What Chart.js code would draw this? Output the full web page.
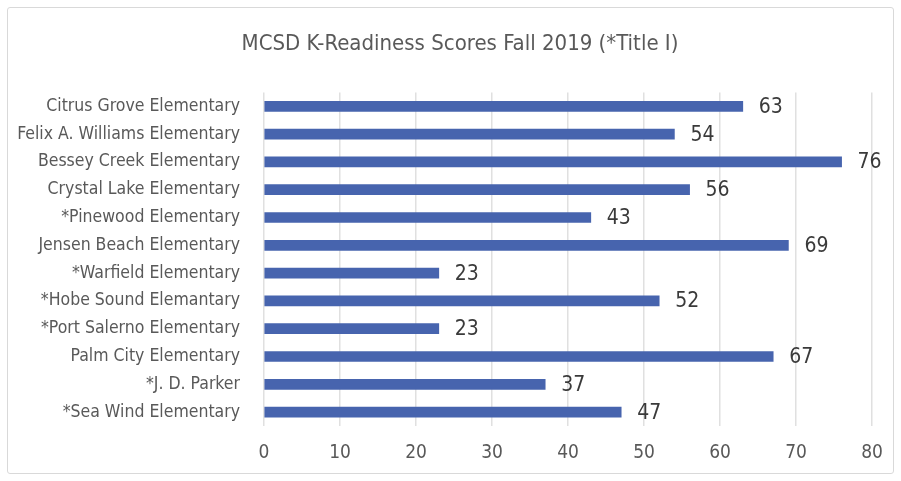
<!DOCTYPE html>
<html>
<head>
<meta charset="utf-8">
<script src="https://cdn.jsdelivr.net/npm/chart.js@4.4.1/dist/chart.umd.min.js"></script>
<style>
  body { margin: 0; background: #fff; }
  #wrap { position: relative; width: 901px; height: 481px; }
  #frame { position: absolute; left: 7px; top: 7px; width: 885px; height: 465px;
           border: 1px solid #d9d9d9; border-radius: 3px; pointer-events: none; }
</style>
</head>
<body>
<div id="wrap">
  <canvas id="chart" width="901" height="481"></canvas>
  <div id="frame"></div>
</div>
<script>
const schools = [
  'Citrus Grove Elementary',
  'Felix A. Williams Elementary',
  'Bessey Creek Elementary',
  'Crystal Lake Elementary',
  '*Pinewood Elementary',
  'Jensen Beach Elementary',
  '*Warfield Elementary',
  '*Hobe Sound Elemantary',
  '*Port Salerno Elementary',
  'Palm City Elementary',
  '*J. D. Parker',
  '*Sea Wind Elementary'
];
const scores = [63, 54, 76, 56, 43, 69, 23, 52, 23, 67, 37, 47];
const xTicks = [0, 10, 20, 30, 40, 50, 60, 70, 80];

const FONT = '"Liberation Sans Narrow", "DejaVu Sans Condensed", "Roboto Condensed", sans-serif';

// value labels at the end of each bar
const barLabels = {
    id: 'barLabels',
    afterDatasetsDraw(chart) {
        const ctx = chart.ctx;
        const meta = chart.getDatasetMeta(0);
        ctx.save();
        ctx.font = '21px ' + FONT;
        ctx.fillStyle = '#3a3a3a';
        ctx.textAlign = 'left';
        ctx.textBaseline = 'middle';
        meta.data.forEach((bar, i) => {
            ctx.fillText(String(scores[i]), bar.x + 16, bar.y + 1);
        });
        ctx.restore();
    }
};

// centre the title a bit further right, like the original
const titleShift = {
    id: 'titleShift',
    afterLayout(chart) {
        const t = chart.titleBlock;
        if (t) { t.left += 48; t.width -= 48; }
    }
};

new Chart(document.getElementById('chart'), {
    type: 'bar',
    data: {
        labels: schools,
        datasets: [{
            data: scores,
            backgroundColor: '#4764ae',
            borderWidth: 0,
            barThickness: 10
        }]
    },
    options: {
        indexAxis: 'y',
        responsive: false,
        animation: false,
        layout: { padding: { left: 0, right: 29, top: 0, bottom: 0 } },
        plugins: {
            legend: { display: false },
            tooltip: { enabled: false },
            title: {
                display: true,
                text: 'MCSD K-Readiness Scores Fall 2019 (*Title I)',
                color: '#595959',
                font: { family: FONT, size: 22, weight: 'normal' },
                padding: { top: 31, bottom: 35 }
            }
        },
        scales: {
            x: {
                min: 0,
                max: 80,
                afterBuildTicks(scale) {
                    scale.ticks = xTicks.map(v => ({ value: v }));
                },
                afterFit(scale) { scale.height = 55; },
                grid: { color: '#e0e0e0', lineWidth: 1.5, drawTicks: false },
                border: { display: false },
                ticks: {
                    color: '#595959',
                    padding: 16,
                    font: { family: FONT, size: 19 }
                }
            },
            y: {
                afterFit(scale) { scale.width = 264; },
                grid: { display: false },
                border: { display: false },
                ticks: {
                    color: '#595959',
                    padding: 16,
                    font: { family: FONT, size: 17.5 }
                }
            }
        }
    },
    plugins: [barLabels, titleShift]
});
</script>
</body>
</html>
